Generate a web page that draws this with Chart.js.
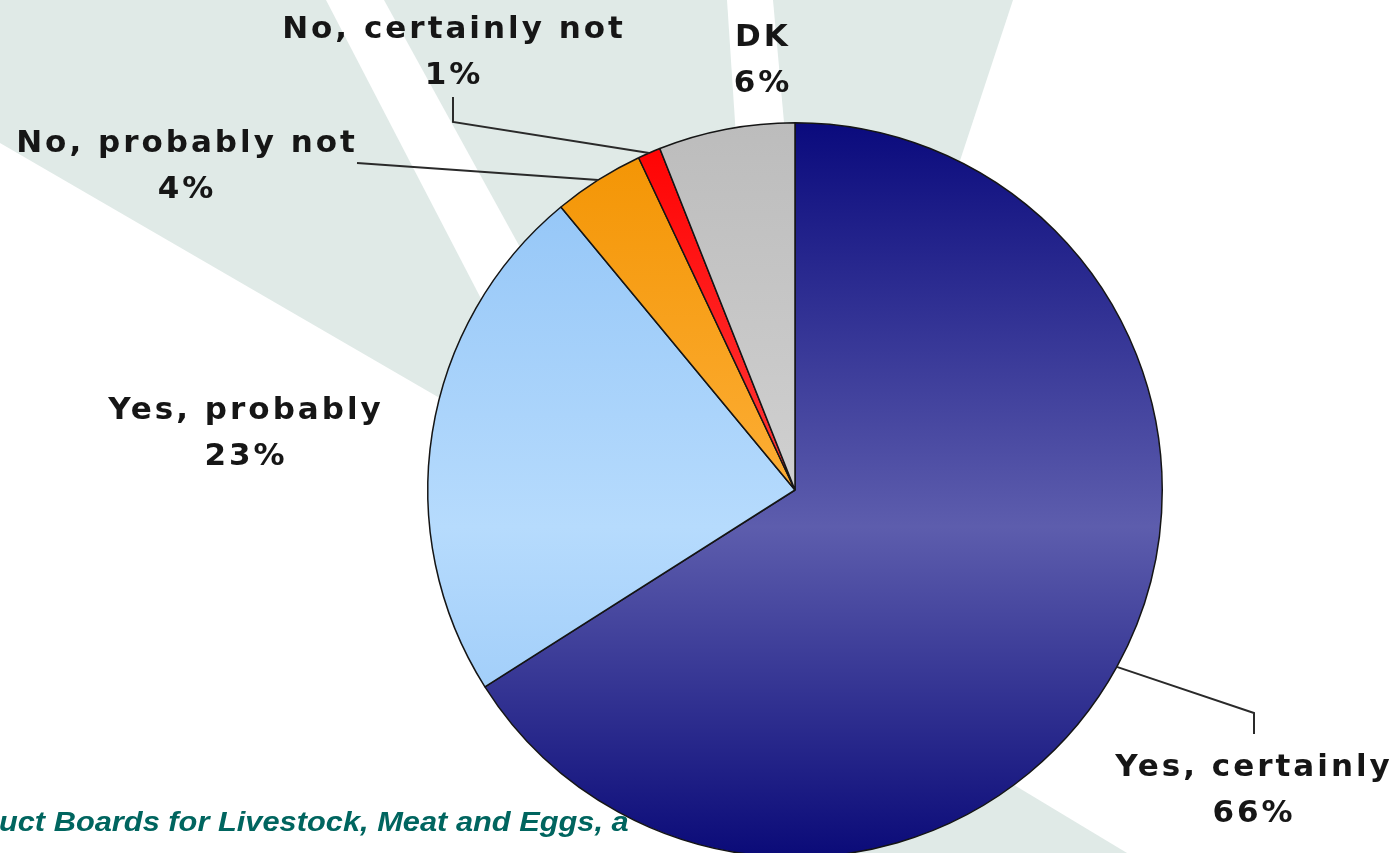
<!DOCTYPE html>
<html>
<head>
<meta charset="utf-8">
<script src="https://cdn.jsdelivr.net/npm/chart.js@4"></script>
<style>
    html, body { margin: 0; padding: 0; background: #ffffff; overflow: hidden; }
    #wrap { width: 1397px; height: 853px; overflow: hidden; position: relative; }
    canvas { display: block; }
</style>
</head>
<body>
<div id="wrap"><canvas id="pie" width="1397" height="900"></canvas></div>
<script>
// data
const answers = ["Yes, certainly", "Yes, probably", "No, probably not", "No, certainly not", "DK"];
const shares = [66, 23, 4, 1, 6];
const shareLabels = ["66%", "23%", "4%", "1%", "6%"];

// slice gradients: top, middle, bottom
const sliceGradients = [
    ["#0a0a7d", "#5d5dad", "#0a0a78"],
    ["#8ec2f6", "#b6dbfd", "#8ec2f6"],
    ["#f39300", "#fdb03a", "#f39300"],
    ["#ff0000", "#ff3d3d", "#ff0000"],
    ["#bcbcbc", "#d2d2d2", "#bcbcbc"]
];

// label placement, offsets from the pie centre in px
const labelLayout = [
    { dx: 459, dy: 286, leader: [[459, 244], [459, 223]] },
    { dx: -549, dy: -71, leader: null },
    { dx: -608, dy: -338, leader: [[-438, -327]] },
    { dx: -341, dy: -452, leader: [[-342, -393], [-342, -368]] },
    { dx: -32, dy: -444, leader: null }
];
const lineGap = 46;

const sourceText = "Product Boards for Livestock, Meat and Eggs, a";

// light rays of the slide background
const backgroundRays = [
    [[0, 0], [326, 0], [544, 420], [550, 462], [0, 143]],
    [[384, 0], [727, 0], [750, 350], [604, 400]],
    [[773, 0], [1013, 0], [914, 300], [800, 300]],
    [[873, 700], [1132, 856], [800, 856], [760, 700]]
];

function sliceFill(context) {
    const stops = sliceGradients[context.dataIndex];
    const area = context.chart.chartArea;
    if (!area) {
        return stops[1];
    }
    const g = context.chart.ctx.createLinearGradient(0, area.top, 0, area.bottom);
    g.addColorStop(0, stops[0]);
    g.addColorStop(0.55, stops[1]);
    g.addColorStop(1, stops[2]);
    return g;
}

const backdropPlugin = {
    id: "backdrop",
    beforeDraw(chart) {
        const ctx = chart.ctx;
        ctx.save();
        ctx.fillStyle = "#ffffff";
        ctx.fillRect(0, 0, chart.width, chart.height);
        ctx.fillStyle = "#e0eae7";
        for (const ray of backgroundRays) {
            ctx.beginPath();
            ray.forEach(([x, y], i) => i ? ctx.lineTo(x, y) : ctx.moveTo(x, y));
            ctx.closePath();
            ctx.fill();
        }
        ctx.restore();
    },
    beforeDatasetsDraw(chart) {
        // source line sits under the pie, a bit wider than plain Arial
        const ctx = chart.ctx;
        ctx.save();
        ctx.font = 'italic bold 28px "Liberation Sans", Arial, sans-serif';
        ctx.fillStyle = "#00655f";
        ctx.textBaseline = "alphabetic";
        ctx.scale(1.1, 1);
        const cut = ctx.measureText("Prod").width;
        ctx.fillText(sourceText, -cut - 1, 831);
        ctx.restore();
    }
};

const sliceLabelPlugin = {
    id: "sliceLabels",
    afterDatasetsDraw(chart) {
        const ctx = chart.ctx;
        const arcs = chart.getDatasetMeta(0).data;
        ctx.save();
        arcs.forEach((arc, i) => {
            const p = arc.getProps(["x", "y", "startAngle", "endAngle", "outerRadius"], true);
            const lay = labelLayout[i];
            if (lay.leader) {
                const mid = (p.startAngle + p.endAngle) / 2;
                ctx.beginPath();
                ctx.moveTo(p.x + Math.cos(mid) * p.outerRadius, p.y + Math.sin(mid) * p.outerRadius);
                for (let k = lay.leader.length - 1; k >= 0; k--) {
                    ctx.lineTo(p.x + lay.leader[k][0], p.y + lay.leader[k][1]);
                }
                ctx.strokeStyle = "#2a2a2a";
                ctx.lineWidth = 2;
                ctx.stroke();
            }
            ctx.font = 'bold 31px "DejaVu Sans", Verdana, sans-serif';
            ctx.letterSpacing = "3px";
            ctx.fillStyle = "#161616";
            ctx.textAlign = "center";
            ctx.textBaseline = "alphabetic";
            ctx.fillText(answers[i], p.x + lay.dx, p.y + lay.dy);
            ctx.fillText(shareLabels[i], p.x + lay.dx, p.y + lay.dy + lineGap);
        });
        ctx.restore();
    }
};

new Chart(document.getElementById("pie"), {
    type: "pie",
    data: {
        labels: answers,
        datasets: [
            {
                data: shares,
                backgroundColor: sliceFill,
                borderColor: "#151515",
                borderWidth: 1.5
            }
        ]
    },
    options: {
        responsive: false,
        animation: false,
        layout: {
            padding: { left: 427, right: 234, top: 122, bottom: 42 }
        },
        plugins: {
            legend: { display: false },
            tooltip: { enabled: false },
            title: { display: false }
        }
    },
    plugins: [backdropPlugin, sliceLabelPlugin]
});
</script>
</body>
</html>
